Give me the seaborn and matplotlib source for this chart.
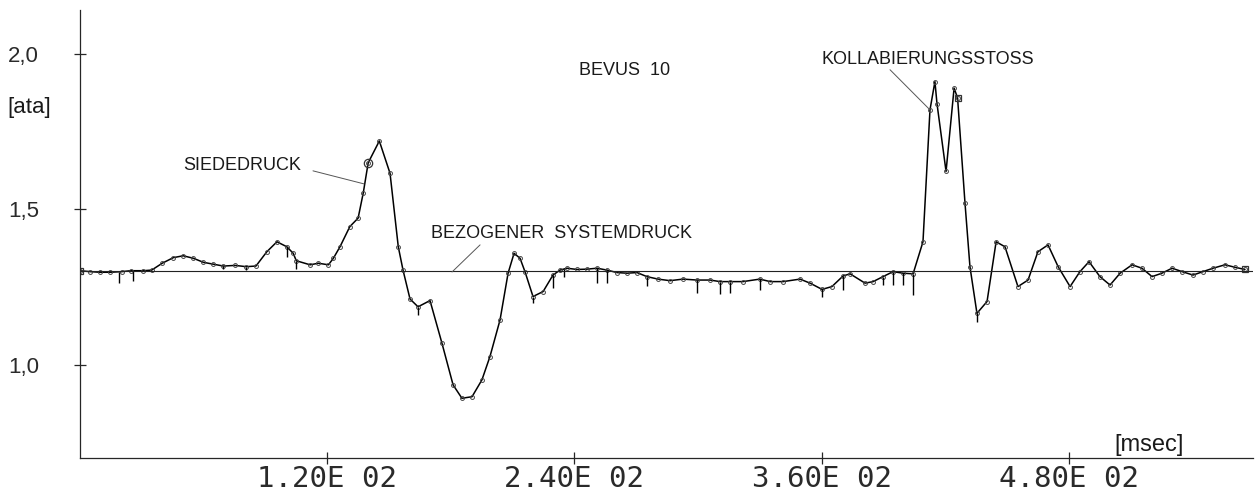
import matplotlib
matplotlib.use("Agg")
import matplotlib.pyplot as plt
import seaborn as sns
import pandas as pd

# Druckverlauf
t_ms = [0, 4.9, 9.7, 14.6, 20.2, 24.6, 30.7, 34.8, 39.9, 45.3, 50.1, 55.0, 59.9, 64.7,
        69.6, 75.3, 80.7, 85.4, 90.7, 95.6, 100.4, 103.5, 105.0, 111.7, 115.7, 120.6,
        123.0, 126.2, 131.0, 135.0, 137.5, 139.9, 145.3, 150.5, 154.5, 156.8, 160.2,
        164.1, 169.9, 175.7, 181.1, 185.4, 190.3, 195.1, 199.0, 203.9, 207.8, 210.7,
        213.6, 216.0, 219.9, 224.8, 229.6, 233.0, 236.4, 241.3, 246.0, 251.0, 255.8,
        260.7, 265.5, 270.4, 275.2, 280.6, 286.4, 292.7, 299.5, 305.8, 310.7, 315.5,
        321.8, 330.0, 335.0, 341.3, 349.5, 354.4, 360.2, 365.0, 370.4, 373.8, 381.1,
        385.0, 389.8, 394.7, 399.5, 404.4, 409.2, 412.6, 415.0, 416.0, 420.4, 424.3,
        426.0, 429.6, 432.0, 435.4, 440.3, 444.7, 449.0, 455.3, 460.2, 465.0, 469.9,
        474.8, 480.6, 485.4, 489.8, 495.1, 500.0, 504.9, 510.7, 515.5, 520.4, 525.2,
        530.1, 535.0, 540.3, 545.1, 550.0, 555.8, 560.7, 565.5]
p_ata = [1.303, 1.300, 1.298, 1.298, 1.300, 1.303, 1.303, 1.305, 1.327, 1.345, 1.351,
         1.343, 1.330, 1.324, 1.318, 1.320, 1.316, 1.318, 1.364, 1.396, 1.380, 1.359,
         1.335, 1.322, 1.327, 1.322, 1.343, 1.380, 1.445, 1.472, 1.553, 1.650, 1.720,
         1.616, 1.380, 1.305, 1.212, 1.187, 1.207, 1.070, 0.936, 0.893, 0.898, 0.952,
         1.027, 1.145, 1.295, 1.359, 1.343, 1.300, 1.220, 1.236, 1.289, 1.305, 1.311,
         1.307, 1.308, 1.311, 1.305, 1.297, 1.295, 1.297, 1.284, 1.276, 1.271, 1.276,
         1.273, 1.273, 1.268, 1.268, 1.268, 1.276, 1.268, 1.268, 1.276, 1.263, 1.243,
         1.252, 1.286, 1.293, 1.263, 1.268, 1.284, 1.300, 1.295, 1.293, 1.396, 1.820,
         1.911, 1.840, 1.622, 1.890, 1.858, 1.520, 1.316, 1.166, 1.204, 1.396, 1.380,
         1.252, 1.273, 1.364, 1.386, 1.316, 1.252, 1.300, 1.332, 1.284, 1.257, 1.295,
         1.322, 1.311, 1.284, 1.295, 1.311, 1.300, 1.289, 1.300, 1.311, 1.322, 1.314,
         1.307]

# kurze Stoerspitzen nach unten
spike_t = [19.0, 25.6, 69.6, 80.7, 100.4, 105.0, 164.1, 219.9, 229.6, 235.0, 251.0,
           255.8, 275.2, 299.5, 310.7, 315.5, 330.0, 360.2, 370.4, 389.8, 394.7, 399.5,
           404.4, 435.4]
spike_top = [1.299, 1.302, 1.318, 1.316, 1.380, 1.335, 1.187, 1.220, 1.289, 1.309, 1.311,
             1.305, 1.284, 1.273, 1.268, 1.268, 1.276, 1.243, 1.286, 1.284, 1.300, 1.295,
             1.293, 1.166]
spike_lo = [1.265, 1.270, 1.308, 1.306, 1.348, 1.307, 1.160, 1.198, 1.247, 1.284, 1.263,
            1.263, 1.254, 1.230, 1.228, 1.232, 1.241, 1.220, 1.241, 1.257, 1.257, 1.257,
            1.225, 1.139]

# markierte Punkte
sq_t = [0, 426.0, 565.5]
sq_p = [1.303, 1.858, 1.307]
circ_t = [139.9]
circ_p = [1.650]

p_system = 1.303

x_ticks = [120, 240, 360, 480]
x_labels = ["1.20E 02", "2.40E 02", "3.60E 02", "4.80E 02"]
y_ticks = [1.0, 1.5, 2.0]
y_labels = ["1,0", "1,5", "2,0"]

sns.set_style("ticks")
plt.rcParams["font.family"] = ["Liberation Sans", "DejaVu Sans"]

fig = plt.figure(figsize=(12.57, 4.93), dpi=100)
ax = fig.add_axes([80/1257, 35/493, 1173/1257, 448/493])

df = pd.DataFrame({"t": t_ms, "p": p_ata})
sns.lineplot(data=df, x="t", y="p", ax=ax, color="black", lw=1.1, marker="o",
             markersize=2.8, markerfacecolor="none", markeredgecolor="#444444",
             markeredgewidth=0.7)
ax.vlines(spike_t, spike_lo, spike_top, color="black", lw=1.0)
ax.plot(sq_t, sq_p, ls="none", marker="s", ms=5, mfc="none", mec="#333333", mew=0.9)
ax.plot(circ_t, circ_p, ls="none", marker="o", ms=6, mfc="none", mec="#333333", mew=0.9)

ax.axhline(p_system, color="#222222", lw=0.8)

ax.set_xlim(0, 569.4)
ax.set_ylim(0.701, 2.141)
sns.despine(ax=ax)
ax.spines["left"].set_linewidth(0.9)
ax.spines["bottom"].set_linewidth(0.9)

ax.set_xticks(x_ticks)
ax.set_xticklabels(x_labels, family="DejaVu Sans Mono", fontsize=21, color="#2a2a2a")
ax.set_yticks(y_ticks)
ax.set_yticklabels(y_labels, fontsize=16, color="#2a2a2a")
ax.tick_params(axis="x", direction="inout", length=8, width=0.9, pad=1)
ax.tick_params(axis="y", direction="inout", length=9, width=0.9, pad=25)
ax.set_xlabel("")
ax.set_ylabel("")

txt = dict(fontsize=13, color="#1a1a1a", ha="center", va="center")
ax.text(264.1, 1.945, "BEVUS  10", **txt)
ax.text(78.9, 1.640, "SIEDEDRUCK", **txt)
ax.text(233.7, 1.423, "BEZOGENER  SYSTEMDRUCK", **txt)
ax.text(411.7, 1.982, "KOLLABIERUNGSSTOSS", **txt)
ax.text(519, 0.743, "[msec]", fontsize=17, color="#1a1a1a", ha="center", va="center")
fig.text(29/1257, 1 - 108/493, "[ata]", fontsize=16, color="#1a1a1a", ha="center", va="center")

lead = dict(color="#555555", lw=0.7)
ax.plot([113.1, 137.9], [1.624, 1.582], **lead)
ax.plot([194.2, 180.6], [1.386, 1.299], **lead)
ax.plot([393.2, 412.6], [1.949, 1.820], **lead)

fig.savefig("out.png", dpi=100)
